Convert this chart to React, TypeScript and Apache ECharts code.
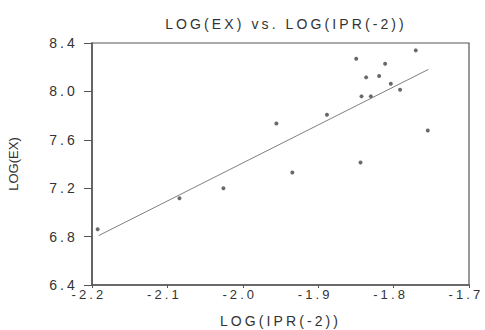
import React, { useEffect, useRef } from "react";
import * as echarts from "echarts";

const logIPR = [
  -2.1925, -2.084, -2.0257, -1.9555, -1.9343, -1.8884, -1.8496, -1.8439, -1.8426,
  -1.8364, -1.8302, -1.8192, -1.8112, -1.8037, -1.7914, -1.7706, -1.7547,
];
const logEX = [
  6.861, 7.117, 7.2, 7.735, 7.33, 7.807, 8.27, 7.412, 7.959,
  8.116, 7.959, 8.127, 8.229, 8.063, 8.014, 8.339, 7.677,
];
const fitX = [-2.1912, -1.7538];
const fitY = [6.808, 8.182];

const titleText = "LOG(EX) vs. LOG(IPR(-2))";
const xName = "LOG(IPR(-2))";
const yName = "LOG(EX)";

const css = `
body { margin: 0; }
.chartbox text { letter-spacing: 3.1px; }
.chartbox text[transform^="matrix(0,-1"] { letter-spacing: 0px; }
.chartbox text[transform^="matrix(6"] { letter-spacing: 0px; }
`;

export default function App() {
  const ref = useRef<HTMLDivElement>(null);
  useEffect(() => {
    if (!ref.current) return;
    const chart = echarts.init(ref.current, null, { renderer: "svg" });
    const font = "Liberation Sans, Arial, sans-serif";
    chart.setOption({
      animation: false,
      backgroundColor: "#fff",
      textStyle: { fontFamily: font },
      title: {
        text: titleText,
        left: 281,
        textAlign: "center",
        top: 12,
        textStyle: { fontSize: 14, fontWeight: "normal", color: "#333", fontFamily: font },
      },
      grid: {
        left: 92,
        right: 16,
        top: 43,
        bottom: 45,
        show: true,
        borderColor: "#555",
        borderWidth: 1.2,
        backgroundColor: "#fff",
        containLabel: false,
        outerBoundsMode: "none",
      },
      xAxis: {
        type: "value",
        min: -2.2,
        max: -1.7,
        interval: 0.1,
        name: xName,
        nameLocation: "middle",
        nameGap: 29,
        nameTextStyle: { fontSize: 14, color: "#333", fontFamily: font },
        axisLine: { show: true, lineStyle: { color: "#555", width: 1.5 } },
        axisTick: { show: true, length: 3, lineStyle: { color: "#555" } },
        axisLabel: {
          fontSize: 13,
          color: "#333",
          margin: 3,
          padding: [0, 6, 0, 0],
          fontFamily: font,
          formatter: (v: number) => v.toFixed(1),
        },
        splitLine: { show: false },
      },
      yAxis: {
        type: "value",
        min: 6.4,
        max: 8.4,
        interval: 0.4,
        name: yName,
        nameLocation: "middle",
        nameGap: 72,
        nameRotate: 90,
        nameTextStyle: { fontSize: 13, color: "#333", fontFamily: font },
        axisLine: { show: true, lineStyle: { color: "#555", width: 1.5 } },
        axisTick: { show: true, length: 8, lineStyle: { color: "#555" } },
        axisLabel: {
          fontSize: 14,
          color: "#333",
          margin: 14,
          fontFamily: font,
          formatter: (v: number) => v.toFixed(1),
        },
        splitLine: { show: false },
      },
      series: [
        {
          type: "scatter",
          data: logIPR.map((x, i) => [x, logEX[i]]),
          symbol: "circle",
          symbolSize: 4,
          itemStyle: { color: "#444" },
          silent: true,
        },
        {
          type: "line",
          data: fitX.map((x, i) => [x, fitY[i]]),
          symbol: "none",
          lineStyle: { color: "#808080", width: 1 },
          silent: true,
        },
      ],
    });
    return () => chart.dispose();
  }, []);
  return (
    <>
      <style>{css}</style>
      <div
        ref={ref}
        className="chartbox"
        style={{ position: "fixed", left: 0, top: 0, width: 485, height: 330 }}
      />
    </>
  );
}
